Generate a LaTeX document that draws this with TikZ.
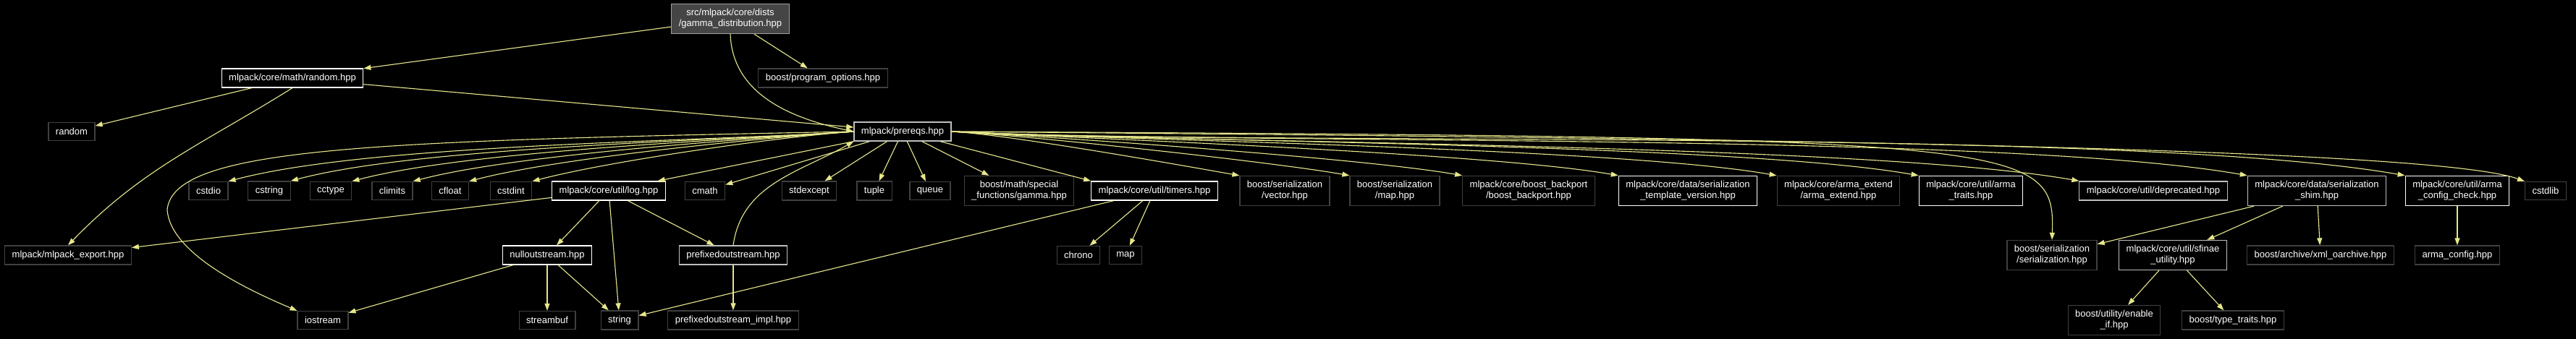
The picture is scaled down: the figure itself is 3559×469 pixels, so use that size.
\documentclass[tikz,border=0pt]{standalone}
\usepackage{fontspec}
\setmainfont{Liberation Sans}
\usetikzlibrary{arrows.meta}

\definecolor{edgecol}{HTML}{E6E68C}
\definecolor{extline}{HTML}{404040}
\definecolor{undocline}{HTML}{BFBFBF}
\definecolor{rootfill}{HTML}{454545}

\tikzset{
    hdr/.style={draw=extline, line width=0.3pt, text=white, align=center,
        font=\fontsize{3.25}{3.75}\selectfont, inner xsep=2.5pt, inner ysep=1.75pt,
        minimum height=6.25pt},
    hdrdoc/.style={hdr, draw=white},
    hdrund/.style={hdr, draw=undocline},
    inc/.style={draw=edgecol, line width=0.28pt, -{Triangle[length=2.5pt,width=1.75pt]}}
}

\begin{document}
\begin{tikzpicture}[x=0.25pt, y=-0.25pt]
    \path[use as bounding box, fill=black] (0,0) rectangle (3559,469);

    \node[hdr, fill=rootfill, draw=gray!75] (top) at (1009,26) {src/mlpack/core/dists\\/gamma\_distribution.hpp};
    \node[hdrdoc] (rndhpp)  at (404,108)  {mlpack/core/math/random.hpp};
    \node[hdr]    (progopt) at (1137,108) {boost/program\_options.hpp};
    \node[hdrund] (prereqs) at (1247,182) {mlpack/prereqs.hpp};
    \node[hdr]    (rnd)     at (99,182)   {random};

    \node[hdr]    (cstdio)     at (288,264)  {cstdio};
    \node[hdr]    (cstring)    at (372,264)  {cstring};
    \node[hdr]    (cctype)     at (457,264)  {cctype};
    \node[hdr]    (climits)    at (542,264)  {climits};
    \node[hdr]    (cfloat)     at (622,264)  {cfloat};
    \node[hdr]    (cstdint)    at (706,264)  {cstdint};
    \node[hdrdoc] (loghpp)     at (841,264)  {mlpack/core/util/log.hpp};
    \node[hdr]    (cmath)      at (974,264)  {cmath};
    \node[hdr]    (stdexcept)  at (1118,264) {stdexcept};
    \node[hdr]    (tuple)      at (1208,264) {tuple};
    \node[hdr]    (queue)      at (1285,264) {queue};
    \node[hdr]    (gammahpp)   at (1408,264) {boost/math/special\\\_functions/gamma.hpp};
    \node[hdrdoc] (timers)     at (1595,264) {mlpack/core/util/timers.hpp};
    \node[hdr]    (svector)    at (1775,264) {boost/serialization\\/vector.hpp};
    \node[hdr]    (smap)       at (1927,264) {boost/serialization\\/map.hpp};
    \node[hdr]    (backport)   at (2112,264) {mlpack/core/boost\_backport\\/boost\_backport.hpp};
    \node[hdrdoc] (sertempl)   at (2332,264) {mlpack/core/data/serialization\\\_template\_version.hpp};
    \node[hdr]    (armaext)    at (2540,264) {mlpack/core/arma\_extend\\/arma\_extend.hpp};
    \node[hdrdoc] (armatraits) at (2723,264) {mlpack/core/util/arma\\\_traits.hpp};
    \node[hdrund] (deprecated) at (2975,264) {mlpack/core/util/deprecated.hpp};
    \node[hdrund] (shim)       at (3201,264) {mlpack/core/data/serialization\\\_shim.hpp};
    \node[hdrdoc] (cfgcheck)   at (3395,264) {mlpack/core/util/arma\\\_config\_check.hpp};
    \node[hdr]    (cstdlib)    at (3517,264) {cstdlib};

    \node[hdr]    (export)   at (94,353)   {mlpack/mlpack\_export.hpp};
    \node[hdrdoc] (nullos)   at (756,353)  {nulloutstream.hpp};
    \node[hdrund] (prefixos) at (1013,353) {prefixedoutstream.hpp};
    \node[hdr]    (chrono)   at (1490,353) {chrono};
    \node[hdr]    (stdmap)   at (1555,353) {map};
    \node[hdr]    (serial)   at (2835,353) {boost/serialization\\/serialization.hpp};
    \node[hdrund] (sfinae)   at (3002,353) {mlpack/core/util/sfinae\\\_utility.hpp};
    \node[hdr]    (xmlarch)  at (3206,353) {boost/archive/xml\_oarchive.hpp};
    \node[hdr]    (armacfg)  at (3395,353) {arma\_config.hpp};

    \node[hdr] (iostream)   at (446,443)  {iostream};
    \node[hdr] (streambuf)  at (756,443)  {streambuf};
    \node[hdr] (string)     at (856,443)  {string};
    \node[hdr] (prefiximpl) at (1013,443) {prefixedoutstream\_impl.hpp};
    \node[hdr] (enableif)   at (2921,443) {boost/utility/enable\\\_if.hpp};
    \node[hdr] (typetraits) at (3085,443) {boost/type\_traits.hpp};

    \draw[inc] (top) -- (rndhpp);
    \draw[inc] (top) -- (progopt);
    \draw[inc] (top.south) to[out=-88, in=168] (prereqs.west);
    \draw[inc] (rndhpp) -- (prereqs);
    \draw[inc] (rndhpp) -- (rnd);
    \draw[inc] (rndhpp.south) to[out=-148, in=46] (export.north);

    \draw[inc] (prereqs.west) to[out=184, in=15, looseness=0.6] (cstdio.north east);
    \draw[inc] (prereqs.west) to[out=184, in=15, looseness=0.6] (cstring.north east);
    \draw[inc] (prereqs.west) to[out=184, in=15, looseness=0.6] (cctype.north east);
    \draw[inc] (prereqs.west) to[out=184, in=15, looseness=0.6] (climits.north east);
    \draw[inc] (prereqs.west) to[out=184, in=15, looseness=0.6] (cfloat.north east);
    \draw[inc] (prereqs.west) to[out=184, in=15, looseness=0.6] (cstdint.north east);
    \draw[inc] (prereqs.west) .. controls (500,195) and (240,205) .. (231,290)
        .. controls (235,350) and (340,400) .. (iostream.north west);
    \draw[inc] (prereqs) -- (loghpp);
    \draw[inc] (prereqs) -- (cmath);
    \draw[inc] (prereqs) -- (stdexcept);
    \draw[inc] (prereqs) -- (tuple);
    \draw[inc] (prereqs) -- (queue);
    \draw[inc] (prereqs) -- (gammahpp);
    \draw[inc] (prereqs) -- (timers.north west);
    \draw[inc] (prereqs.east) to[out=-3, in=170, looseness=0.5] (svector.north west);
    \draw[inc] (prereqs.east) to[out=-3, in=170, looseness=0.5] (smap.north west);
    \draw[inc] (prereqs.east) to[out=-3, in=170, looseness=0.5] (backport.north west);
    \draw[inc] (prereqs.east) to[out=-3, in=170, looseness=0.5] (sertempl.north west);
    \draw[inc] (prereqs.east) to[out=-3, in=170, looseness=0.5] (armaext.north west);
    \draw[inc] (prereqs.east) to[out=-3, in=170, looseness=0.5] (armatraits.north west);
    \draw[inc] (prereqs.east) to[out=-3, in=170, looseness=0.5] (deprecated.north west);
    \draw[inc] (prereqs.east) to[out=-3, in=170, looseness=0.5] (shim.north west);
    \draw[inc] (prereqs.east) to[out=-3, in=170, looseness=0.5] (cfgcheck.north west);
    \draw[inc] (prereqs.east) .. controls (2200,190) and (3350,200) .. (cstdlib.north west);
    \draw[inc] (prereqs.east) .. controls (2800,190) and (2840,195) .. (serial.north);

    \draw[inc] (loghpp) -- (export);
    \draw[inc] (loghpp) -- (nullos);
    \draw[inc] (loghpp) -- (string);
    \draw[inc] (loghpp) -- (prefixos);
    \draw[inc] (nullos) -- (iostream);
    \draw[inc] (nullos) -- (streambuf);
    \draw[inc] (nullos) -- (string);
    \draw[inc] (prefixos) -- (prefiximpl);
    \draw[inc] (prefixos.north) to[out=82, in=-150] (prereqs.south west);
    \draw[inc] (timers) -- (string);
    \draw[inc] (timers) -- (chrono);
    \draw[inc] (timers) -- (stdmap);
    \draw[inc] (shim) -- (serial);
    \draw[inc] (shim) -- (sfinae);
    \draw[inc] (shim) -- (xmlarch);
    \draw[inc] (cfgcheck) -- (armacfg);
    \draw[inc] (sfinae) -- (enableif);
    \draw[inc] (sfinae) -- (typetraits);
\end{tikzpicture}
\end{document}
